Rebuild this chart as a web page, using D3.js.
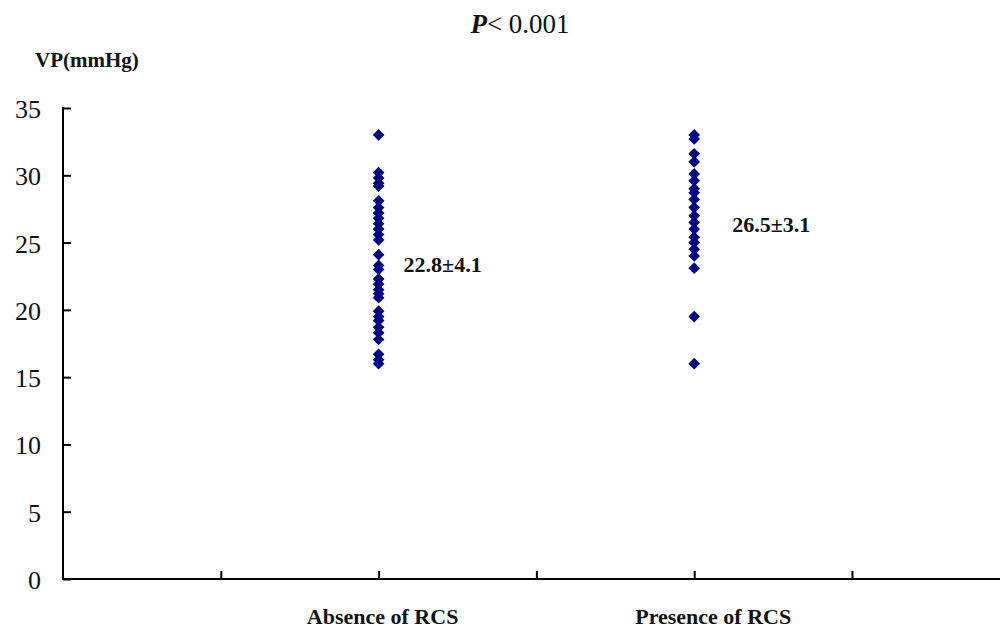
<!DOCTYPE html>
<html>
<head>
<meta charset="utf-8">
<script src="https://cdn.jsdelivr.net/npm/d3@7"></script>
<style>
  body { margin: 0; background: #fff; }
  text { font-family: "Liberation Serif", "Times New Roman", serif; }
</style>
</head>
<body>
<div id="chart"></div>
<script>
// values
const groups = ["Absence of RCS", "Presence of RCS"];
const groupX = [2, 4];
const absence = [33.0, 30.2, 29.8, 29.4, 29.2, 28.1, 27.6, 27.2, 26.8, 26.4, 26.0, 25.6, 25.2,
  24.1, 23.3, 23.0, 22.3, 21.9, 21.5, 21.2, 20.9, 19.9, 19.5, 19.2, 18.7, 18.3, 17.8, 16.7, 16.3, 16.0];
const presence = [33.0, 32.7, 31.6, 31.0, 30.1, 29.6, 29.0, 28.7, 28.2, 27.6, 27.0, 26.5, 26.0,
  25.4, 25.0, 24.5, 24.0, 23.1, 19.5, 16.0];
const summaries = ["22.8±4.1", "26.5±3.1"];
const yTicks = [0, 5, 10, 15, 20, 25, 30, 35];
const xTicks = [1, 2, 3, 4, 5];

const width = 1000, height = 630;
const margin = { top: 108, left: 63, bottom: 51 };

// label placement (layout only)
const catLabelDx = [4, 19];
const sumLabelDx = [25, 38];
const sumLabelAt = [22.8, 25.8];

const svg = d3.select("#chart").append("svg")
  .attr("width", width)
  .attr("height", height);

const x = d3.scaleLinear().domain([0, 6]).range([margin.left, margin.left + 6 * 157.8]);
const y = d3.scaleLinear().domain([0, 35]).range([height - margin.bottom, margin.top]);

// y axis
const yAxis = svg.append("g")
  .attr("transform", `translate(${margin.left},0)`)
  .call(d3.axisRight(y).tickValues(yTicks).tickSize(8).tickFormat(""));
yAxis.select(".domain").remove();
yAxis.selectAll(".tick line").attr("stroke", "#000").attr("stroke-width", 2);
svg.append("line")
  .attr("x1", margin.left).attr("x2", margin.left)
  .attr("y1", y(35) - 1).attr("y2", y(0) + 1)
  .attr("stroke", "#000").attr("stroke-width", 2);

svg.selectAll(".ylab")
  .data(yTicks)
  .enter()
  .append("text")
  .attr("class", "ylab")
  .attr("x", 41)
  .attr("y", d => y(d) + 10)
  .attr("text-anchor", "end")
  .style("font-size", "26px")
  .attr("fill", "#111")
  .text(d => d);

// x axis
const xAxis = svg.append("g")
  .attr("transform", `translate(0,${y(0)})`)
  .call(d3.axisTop(x).tickValues(xTicks).tickSize(8).tickFormat(""));
xAxis.select(".domain").remove();
xAxis.selectAll(".tick line").attr("stroke", "#000").attr("stroke-width", 2);
svg.append("line")
  .attr("x1", margin.left - 1).attr("x2", width)
  .attr("y1", y(0)).attr("y2", y(0))
  .attr("stroke", "#000").attr("stroke-width", 2);

svg.selectAll(".xlab")
  .data(groups)
  .enter()
  .append("text")
  .attr("class", "xlab")
  .attr("x", (d, i) => x(groupX[i]) + catLabelDx[i])
  .attr("y", 624)
  .attr("text-anchor", "middle")
  .style("font-size", "22px")
  .style("font-weight", "bold")
  .attr("fill", "#111")
  .text(d => d);

// points
const diamond = d3.symbol().type(d3.symbolSquare).size(68);
[absence, presence].forEach((vals, i) => {
  svg.selectAll(".pt" + i)
    .data(vals)
    .enter()
    .append("path")
    .attr("class", "pt" + i)
    .attr("d", diamond)
    .attr("transform", d => `translate(${x(groupX[i])},${y(d)}) rotate(45)`)
    .attr("fill", "#000080");
});

// mean ± sd labels
svg.selectAll(".sum")
  .data(summaries)
  .enter()
  .append("text")
  .attr("class", "sum")
  .attr("x", (d, i) => x(groupX[i]) + sumLabelDx[i])
  .attr("y", (d, i) => y(sumLabelAt[i]))
  .style("font-size", "22px")
  .style("font-weight", "bold")
  .attr("fill", "#111")
  .text(d => d);

// axis title
svg.append("text")
  .attr("x", 35)
  .attr("y", 67)
  .style("font-size", "21px")
  .style("font-weight", "bold")
  .attr("fill", "#111")
  .text("VP(mmHg)");

// title
const title = svg.append("text")
  .attr("x", 520)
  .attr("y", 33)
  .attr("text-anchor", "middle")
  .style("font-size", "27px")
  .attr("fill", "#111");
title.append("tspan").style("font-style", "italic").style("font-weight", "bold").text("P");
title.append("tspan").text("< 0.001");
</script>
</body>
</html>
